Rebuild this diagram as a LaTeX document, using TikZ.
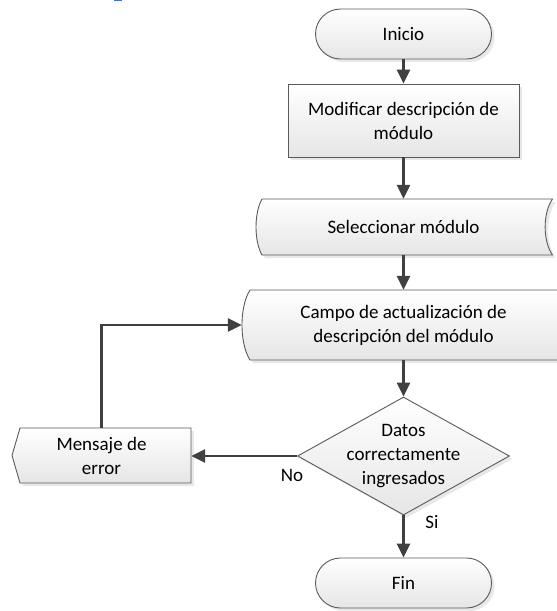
\documentclass[tikz,border=0pt]{standalone}
\usepackage{fontspec}
\setmainfont{Carlito}
\usetikzlibrary{arrows.meta,shapes.geometric,shadows}
\definecolor{lineg}{HTML}{404040}
\definecolor{edgeg}{HTML}{5A5A5A}
\definecolor{bluemark}{HTML}{4472C4}
\tikzset{
  shp/.style={draw=edgeg, line width=0.9pt, top color=white, bottom color=black!10,
    drop shadow={shadow xshift=3pt, shadow yshift=-3pt, fill=black!18}},
  txt/.style={font=\fontsize{19}{24}\selectfont, align=center, text=black, inner sep=0pt},
  term/.style={shp, txt, rectangle, rounded corners=25pt, minimum width=176pt, minimum height=50pt},
  proc/.style={shp, txt, rectangle, minimum width=231pt, minimum height=73pt},
  conn/.style={draw=lineg, line width=2.6pt, -{Triangle[length=14pt,width=13pt]}},
  lbl/.style={font=\fontsize{19}{24}\selectfont, inner sep=0pt, text=black}
}
\begin{document}
\begin{tikzpicture}[x=1pt,y=-1pt]
\useasboundingbox (0,0) rectangle (557,611);
\clip (0,0) rectangle (557,611);
\fill[bluemark] (114,0) rectangle (122,1.2);

% stored-data shapes and display shape
\path[shp] (262,199) -- (552.5,199) .. controls (542.7,213) and (542.7,241) .. (552.5,255)
  -- (262,255) .. controls (254,241) and (254,213) .. (262,199) -- cycle;
\path[shp] (250,290) -- (575,290) .. controls (565,307) and (565,343) .. (575,360)
  -- (250,360) .. controls (239.3,343) and (239.3,307) .. (250,290) -- cycle;
\path[shp] (20,428) -- (191,428) -- (191,483) -- (20,483) -- (12,455.5) -- cycle;

\node[term] (ini) at (403.5,34) {Inicio};
\node[proc] (mod) at (403.5,120.5) {Modificar descripción de\\módulo};
\node[txt, minimum width=290pt, minimum height=56pt] (sel) at (403.5,227) {Seleccionar módulo};
\node[txt, minimum width=323pt, minimum height=70pt] (cam) at (403.5,325) {Campo de actualización de\\descripción del módulo};
\node[shp, diamond, minimum width=212pt, minimum height=118pt, inner sep=0pt] (dec) at (403.5,456) {};
\node[txt] (dectxt) at (dec) {Datos\\correctamente\\ingresados};
\node[txt, minimum width=179pt, minimum height=55pt] (msg) at (101.5,455.5) {Mensaje de\\error};
\node[term] (fin) at (403.5,583) {Fin};

\node[lbl] (no) at (292,475) {No};
\node[lbl] (si) at (432,522) {Si};

\draw[conn] (ini.south) -- (mod.north);
\draw[conn] (mod.south) -- (sel.north);
\draw[conn] (sel.south) -- (cam.north);
\draw[conn] (cam.south) -- (dec.north);
\draw[conn] (dec.south) -- (fin.north);
\draw[conn] (dec.west) -- (dec.west -| msg.east);
\draw[conn] (msg.north) |- (cam.west);
\end{tikzpicture}
\end{document}
